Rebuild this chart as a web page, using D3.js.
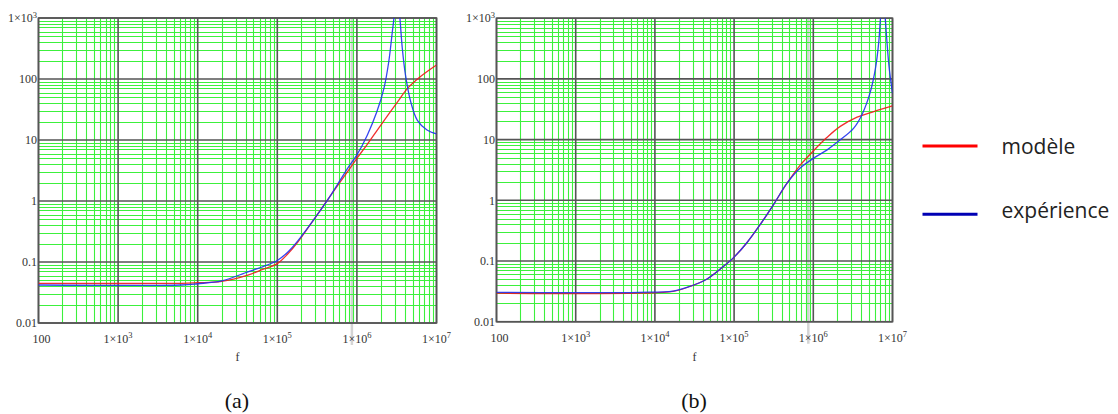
<!DOCTYPE html>
<html>
<head>
<meta charset="utf-8">
<script src="https://cdn.jsdelivr.net/npm/d3@7"></script>
<style>
html,body{margin:0;padding:0;background:#fff;}
svg{display:block;}
</style>
</head>
<body>
<svg id="chart" width="1118" height="414"></svg>
<script>
// ---------- data ----------
const xTickValues = [100, 1e3, 1e4, 1e5, 1e6, 1e7];
const xTickMantissa = ["100", "1\u00d710", "1\u00d710", "1\u00d710", "1\u00d710", "1\u00d710"];
const xTickExponent = ["", "3", "4", "5", "6", "7"];
const yTickValues = [0.01, 0.1, 1, 10, 100, 1000];
const yTickMantissa = ["0.01", "0.1", "1", "10", "100", "1\u00d710"];
const yTickExponent = ["", "", "", "", "", "3"];
const axisTitle = "f";
const panelLabels = ["(a)", "(b)"];
const legendLabels = ["modèle", "expérience"];

// panel (a)
const fA_model = [100, 6.3e3, 1e4, 2e4, 4.27e4, 6.3e4, 1e5, 1.35e5, 1.8e5, 2.95e5, 4.73e5, 7.6e5, 1e6, 1.35e6, 2e6, 3.24e6, 4.27e6, 6.3e6, 1e7];
const vA_model = [0.0447, 0.0447, 0.0457, 0.048, 0.061, 0.074, 0.094, 0.135, 0.21, 0.52, 1.26, 3.0, 5.0, 8.5, 17.6, 42, 69, 110, 170];
const fA_exp = [100, 6.3e3, 1e4, 2e4, 4.27e4, 6.3e4, 1e5, 1.35e5, 1.8e5, 2.95e5, 4.73e5, 7.6e5, 1e6, 1.35e6, 1.78e6, 2.19e6, 2.51e6, 2.79e6, 2.92e6, 3.16e6, 3.47e6, 3.72e6, 4.07e6, 4.73e6, 5.75e6, 7.6e6, 1e7];
const vA_exp = [0.042, 0.042, 0.044, 0.049, 0.069, 0.082, 0.106, 0.145, 0.22, 0.52, 1.26, 3.4, 5.7, 12, 29, 71, 190, 600, 1000, 4000, 1000, 316, 118, 43, 21, 14.6, 12.6];

// panel (b)
const fB_model = [100, 6.3e3, 1.7e4, 2.75e4, 4.5e4, 7.3e4, 1e5, 1.45e5, 2.14e5, 3.16e5, 4.64e5, 6.84e5, 1e6, 1.48e6, 2.19e6, 3.57e6, 5.8e6, 1e7];
const vB_model = [0.0295, 0.0295, 0.0315, 0.038, 0.050, 0.081, 0.116, 0.20, 0.40, 0.86, 1.9, 3.8, 6.5, 10.8, 16.5, 23.5, 29, 36];
const fB_exp = [100, 6.3e3, 1.7e4, 2.75e4, 4.5e4, 7.3e4, 1e5, 1.45e5, 2.14e5, 3.16e5, 4.64e5, 6.84e5, 1e6, 1.48e6, 2.19e6, 3.24e6, 4.13e6, 5.25e6, 6.1e6, 6.7e6, 7.05e6, 7.6e6, 8.1e6, 9e6, 1e7];
const vB_exp = [0.0305, 0.0305, 0.032, 0.038, 0.050, 0.081, 0.116, 0.20, 0.40, 0.86, 1.9, 3.4, 4.9, 6.7, 9.9, 15.5, 26, 61, 150, 400, 1000, 3000, 1000, 170, 58];

// ---------- drawing ----------
const svg = d3.select("#chart");
const RED = "#f01818", BLUE = "#2030f0";

const panels = [
  {id: "a", x0: 38.5, x1: 436.5, y0: 323, y1: 18, model: [fA_model, vA_model], exp: [fA_exp, vA_exp], label: panelLabels[0]},
  {id: "b", x0: 496.5, x1: 892.5, y0: 321.7, y1: 18.2, model: [fB_model, vB_model], exp: [fB_exp, vB_exp], label: panelLabels[1]}
];

const px = v => Math.round(v) + 0.5;

panels.forEach(p => {
  const x = d3.scaleLog().domain([100, 1e7]).range([p.x0, p.x1]);
  const y = d3.scaleLog().domain([0.01, 1000]).range([p.y0, p.y1]);
  const g = svg.append("g");

  // light gray artifact band near 1e6
  g.append("line")
    .attr("x1", x(1e6) - 5).attr("x2", x(1e6) - 5)
    .attr("y1", p.y1).attr("y2", p.y0 + 22)
    .attr("stroke", "#d4d4d4").attr("stroke-width", 2.5);

  // minor grid
  const minors = [];
  for (let e = -2; e < 3; e++) for (let k = 2; k <= 9; k++) minors.push(k * Math.pow(10, e));
  const minorsX = [];
  for (let e = 2; e < 7; e++) for (let k = 2; k <= 9; k++) minorsX.push(k * Math.pow(10, e));
  g.selectAll(".mx").data(minorsX).join("line")
    .attr("x1", d => px(x(d))).attr("x2", d => px(x(d)))
    .attr("y1", p.y1).attr("y2", p.y0)
    .attr("stroke", "#3cf03c").attr("stroke-width", 1.1);
  g.selectAll(".my").data(minors).join("line")
    .attr("y1", d => px(y(d))).attr("y2", d => px(y(d)))
    .attr("x1", p.x0).attr("x2", p.x1)
    .attr("stroke", "#3cf03c").attr("stroke-width", 1.1);

  // decade grid
  g.selectAll(".dx").data(xTickValues).join("line")
    .attr("x1", d => x(d)).attr("x2", d => x(d))
    .attr("y1", p.y1).attr("y2", p.y0)
    .attr("stroke", "#555").attr("stroke-width", 1.6);
  g.selectAll(".dy").data(yTickValues).join("line")
    .attr("y1", d => y(d)).attr("y2", d => y(d))
    .attr("x1", p.x0).attr("x2", p.x1)
    .attr("stroke", "#555").attr("stroke-width", 1.6);
  g.append("rect")
    .attr("x", p.x0).attr("y", p.y1)
    .attr("width", p.x1 - p.x0).attr("height", p.y0 - p.y1)
    .attr("fill", "none").attr("stroke", "#555").attr("stroke-width", 1.6);

  // clip
  svg.append("clipPath").attr("id", "clip" + p.id)
    .append("rect").attr("x", p.x0).attr("y", p.y1)
    .attr("width", p.x1 - p.x0).attr("height", p.y0 - p.y1);

  const line = d3.line().x(d => x(d[0])).y(d => y(d[1])).curve(d3.curveCatmullRom.alpha(0.5));
  const zip = s => s[0].map((f, i) => [f, s[1][i]]);
  const cg = g.append("g").attr("clip-path", "url(#clip" + p.id + ")");
  cg.append("path").attr("d", line(zip(p.model)))
    .attr("fill", "none").attr("stroke", RED).attr("stroke-width", 1.3).attr("opacity", 0.9);
  cg.append("path").attr("d", line(zip(p.exp)))
    .attr("fill", "none").attr("stroke", BLUE).attr("stroke-width", 1.3).attr("opacity", 0.9);

  // y tick labels
  yTickValues.forEach((v, i) => {
    const t = g.append("text")
      .attr("x", p.x0 - 1.5).attr("y", y(v)).attr("dy", "0.35em")
      .attr("text-anchor", "end")
      .attr("font-family", "Liberation Serif, serif").attr("font-size", 12).attr("fill", "#333");
    t.append("tspan").text(yTickMantissa[i]);
    if (yTickExponent[i]) t.append("tspan").attr("font-size", 8.5).attr("dy", "-0.55em").text(yTickExponent[i]);
  });
  // x tick labels
  xTickValues.forEach((v, i) => {
    const t = g.append("text")
      .attr("x", x(v) + (i === 0 ? 3 : 0)).attr("y", p.y0 + 20)
      .attr("text-anchor", "middle")
      .attr("font-family", "Liberation Serif, serif").attr("font-size", 12).attr("fill", "#333");
    t.append("tspan").text(xTickMantissa[i]);
    if (xTickExponent[i]) t.append("tspan").attr("font-size", 8.5).attr("dy", "-0.55em").text(xTickExponent[i]);
  });
  // axis title
  g.append("text")
    .attr("x", (p.x0 + p.x1) / 2).attr("y", 361)
    .attr("text-anchor", "middle")
    .attr("font-family", "Liberation Serif, serif").attr("font-size", 12).attr("fill", "#333")
    .text(axisTitle);
  // panel label
  g.append("text")
    .attr("x", (p.x0 + p.x1) / 2 - 0.5).attr("y", 408)
    .attr("text-anchor", "middle")
    .attr("font-family", "Liberation Serif, serif").attr("font-size", 22).attr("fill", "#111")
    .text(p.label);
});

// legend
const legend = svg.append("g");
const legendColors = ["#ff0000", "#0000b4"];
const legendY = [146, 214.3];
const legendTextY = [154, 217.5];
legendLabels.forEach((lab, i) => {
  legend.append("line")
    .attr("x1", 922.5).attr("x2", 977.5)
    .attr("y1", legendY[i]).attr("y2", legendY[i])
    .attr("stroke", legendColors[i]).attr("stroke-width", 3);
  legend.append("text")
    .attr("x", 1001.5).attr("y", legendTextY[i])
    .attr("font-family", "Open Sans, sans-serif").attr("font-size", 21).attr("fill", "#222")
    .text(lab);
});
</script>
</body>
</html>
